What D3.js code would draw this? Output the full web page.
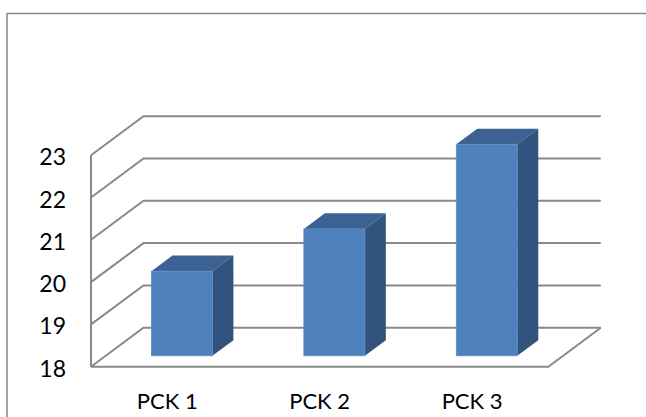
<!DOCTYPE html>
<html>
<head>
<meta charset="utf-8">
<script src="https://cdn.jsdelivr.net/npm/d3@7"></script>
<style>
  html, body { margin: 0; padding: 0; background: #fff; }
  svg { display: block; }
  text { font-family: Lato, "Open Sans", sans-serif; fill: #000; }
</style>
</head>
<body>
<svg id="chart" width="646" height="417"></svg>
<script>
// Chart data
const categories = ["PCK 1", "PCK 2", "PCK 3"];
const values = [20, 21, 23];
const yTicks = [18, 19, 20, 21, 22, 23];

const W = 646, H = 417;
const svg = d3.select("#chart");

// Oblique projection of the plot box: depth vector from front plane to back wall
const depth = { dx: 52.5, dy: -39 };
const front = { left: 91, right: 548.3, bottom: 366.7, top: 155.2 };
// Bars occupy this slice of the floor depth (0 = front, 1 = back)
const d0 = 0.28, d1 = 0.68;

const y = d3.scaleLinear().domain([18, 23]).range([front.bottom, front.top]);
const x = d3.scaleBand().domain(categories)
  .range([front.left, front.right])
  .paddingInner(0.6).paddingOuter(0.3);

const gridColor = "#898989";

// Outer chart frame
svg.append("path")
  .attr("d", `M7,${H + 2} V13.5 H${W + 2}`)
  .attr("fill", "none").attr("stroke", "#8c8c8c").attr("stroke-width", 1.6);

// Gridlines running along the side wall and across the back wall
const grid = svg.append("g").attr("fill", "none")
  .attr("stroke", gridColor).attr("stroke-width", 2);
yTicks.forEach(t => {
  const yf = y(t);
  grid.append("path").attr("d",
    `M${front.left},${yf} L${front.left + depth.dx},${yf + depth.dy} L${front.right + depth.dx},${yf + depth.dy}`);
});

// Side wall front edge
grid.append("line")
  .attr("x1", front.left).attr("x2", front.left)
  .attr("y1", y(23)).attr("y2", y(18));

// Floor outline (front and right edges)
grid.append("path").attr("d",
  `M${front.left},${y(18)} L${front.right},${y(18)} L${front.right + depth.dx},${y(18) + depth.dy}`);

// 3D columns
const bars = svg.append("g");
categories.forEach((c, i) => {
  const v = values[i];
  const bx0 = x(c) + d0 * depth.dx;
  const bx1 = bx0 + x.bandwidth();
  const yTop = y(v) + d0 * depth.dy;
  const yBot = y(18) + d0 * depth.dy;
  const ox = (d1 - d0) * depth.dx, oy = (d1 - d0) * depth.dy;
  const g = bars.append("g");
  // top face
  g.append("path")
    .attr("d", `M${bx0},${yTop} L${bx0 + ox},${yTop + oy} L${bx1 + ox},${yTop + oy} L${bx1},${yTop} Z`)
    .attr("fill", "#3b6292");
  // side face
  g.append("path")
    .attr("d", `M${bx1},${yTop} L${bx1 + ox},${yTop + oy} L${bx1 + ox},${yBot + oy} L${bx1},${yBot} Z`)
    .attr("fill", "#31537d");
  // front face
  g.append("rect")
    .attr("x", bx0).attr("y", yTop)
    .attr("width", bx1 - bx0).attr("height", yBot - yTop)
    .attr("fill", "#4f81bd")
    .attr("stroke", "#5b8cc6").attr("stroke-width", 0.8);
});

// Value axis labels
svg.append("g").selectAll("text").data(yTicks).join("text")
  .attr("x", 66).attr("y", d => y(d) + 1)
  .attr("text-anchor", "end").attr("dominant-baseline", "central")
  .attr("font-size", 23)
  .text(d => d);

// Category labels
svg.append("g").selectAll("text").data(categories).join("text")
  .attr("x", d => x(d) + x.bandwidth() / 2)
  .attr("y", 409)
  .attr("text-anchor", "middle")
  .attr("font-size", 22)
  .text(d => d);
</script>
</body>
</html>
